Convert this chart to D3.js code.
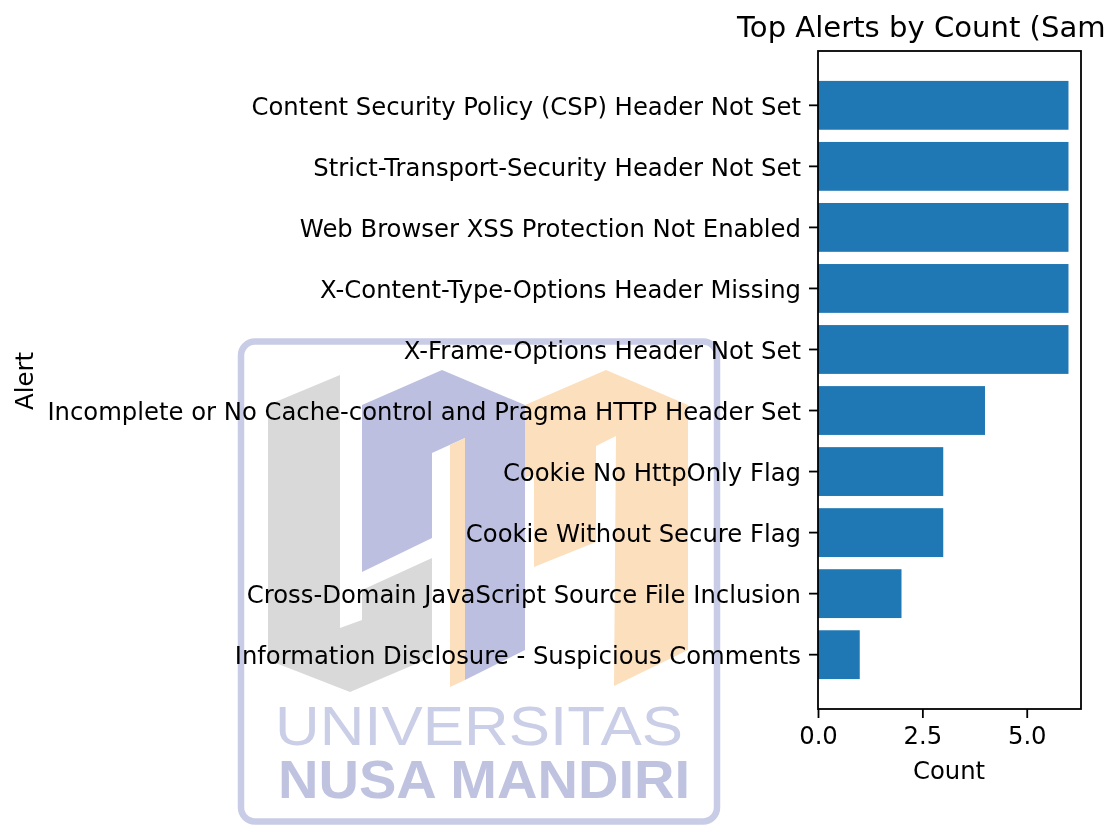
<!DOCTYPE html>
<html><head><meta charset="utf-8">
<script src="https://cdnjs.cloudflare.com/ajax/libs/d3/7.8.5/d3.min.js"></script>
<style>html,body{margin:0;background:#fff}svg{display:block}text{font-family:"DejaVu Sans";fill:#000}</style>
</head><body><svg id="c" width="1119" height="825"></svg>
<script>
const categories = ["Content Security Policy (CSP) Header Not Set","Strict-Transport-Security Header Not Set","Web Browser XSS Protection Not Enabled","X-Content-Type-Options Header Missing","X-Frame-Options Header Not Set","Incomplete or No Cache-control and Pragma HTTP Header Set","Cookie No HttpOnly Flag","Cookie Without Secure Flag","Cross-Domain JavaScript Source File Inclusion","Information Disclosure - Suspicious Comments"];
const counts = [6,6,6,6,6,4,3,3,2,1];
const xTicks = [0,2.5,5];
const titleText = "Top Alerts by Count (Sam";
const xLabel = "Count", yLabel = "Alert";
const wmLines = ["UNIVERSITAS","NUSA MANDIRI"];

const L=818,R=1081,T=51,B=709,fs=24.3;
const svg=d3.select("#c");
const x=d3.scaleLinear().domain([0,6.3]).range([L,R]);
const y=d3.scaleBand().domain(categories).range([T,B]).paddingInner(0.2).paddingOuter(0.49);

svg.selectAll("rect.bar").data(categories).join("rect").attr("class","bar")
 .attr("x",x(0)).attr("y",d=>y(d)).attr("height",y.bandwidth())
 .attr("width",(d,i)=>x(counts[i])-x(0)).attr("fill","#1f77b4");

svg.append("rect").attr("x",L).attr("y",T).attr("width",R-L).attr("height",B-T)
 .attr("fill","none").attr("stroke","#000").attr("stroke-width",1.8);

const yAxis=d3.axisLeft(y).tickSize(9).tickPadding(8);
const gy=svg.append("g").attr("transform",`translate(${L},0)`).call(yAxis);
const xAxis=d3.axisBottom(x).tickValues(xTicks).tickFormat(d3.format(".1f")).tickSize(9).tickPadding(9);
const gx=svg.append("g").attr("transform",`translate(0,${B})`).call(xAxis);
[gx,gy].forEach(g=>{g.select(".domain").remove();
 g.selectAll("line").attr("stroke","#000").attr("stroke-width",1.8);
 g.selectAll("text").style("font-family","DejaVu Sans").style("font-size",fs+"px").attr("fill","#000");});
gy.selectAll("text").attr("dy","0.38em");

svg.append("text").attr("x",949).attr("y",779).attr("text-anchor","middle").style("font-size",fs+"px").text(xLabel);
svg.append("text").attr("transform","translate(33,381) rotate(-90)").attr("text-anchor","middle").style("font-size",fs+"px").text(yLabel);
svg.append("text").attr("x",737).attr("y",37).style("font-size","29.1px").text(titleText);

// Watermark over the whole figure
const wm=svg.append("g").style("mix-blend-mode","multiply");
wm.append("rect").attr("x",241).attr("y",341.5).attr("width",476).attr("height",480).attr("rx",14)
 .attr("fill","none").attr("stroke","#c9cce6").attr("stroke-width",6.5);
const shapes=[
 ["#d9d9d9",[[268,405],[340,375],[340,628],[362,620],[362,590],[432,558],[432,657],[350,692],[268,660]]],
 ["#bcbfdf",[[362,405],[442,370],[525,405],[525,650],[465,680],[465,438],[432,453],[432,538],[362,572]]],
 ["#fcdfbd",[[450,445],[465,438],[465,680],[450,687]]],
 ["#fcdfbd",[[525,405],[606,370],[688,405],[688,650],[614,686],[616,436],[596,446],[596,542],[534,567],[534,474],[525,478]]]
];
wm.selectAll("polygon").data(shapes).join("polygon").attr("fill",d=>d[0]).attr("points",d=>d[1].join(" "));
wm.append("text").attr("x",275).attr("y",745).attr("textLength",408).attr("lengthAdjust","spacingAndGlyphs")
 .style("font-family","Liberation Sans").style("font-size","56px").style("fill","#cbcee7").text(wmLines[0]);
wm.append("text").attr("x",278).attr("y",798).attr("textLength",412).attr("lengthAdjust","spacingAndGlyphs")
 .style("font-family","Liberation Sans").style("font-weight","bold").style("font-size","53px").style("fill","#bfc3e0").text(wmLines[1]);
</script></body></html>
